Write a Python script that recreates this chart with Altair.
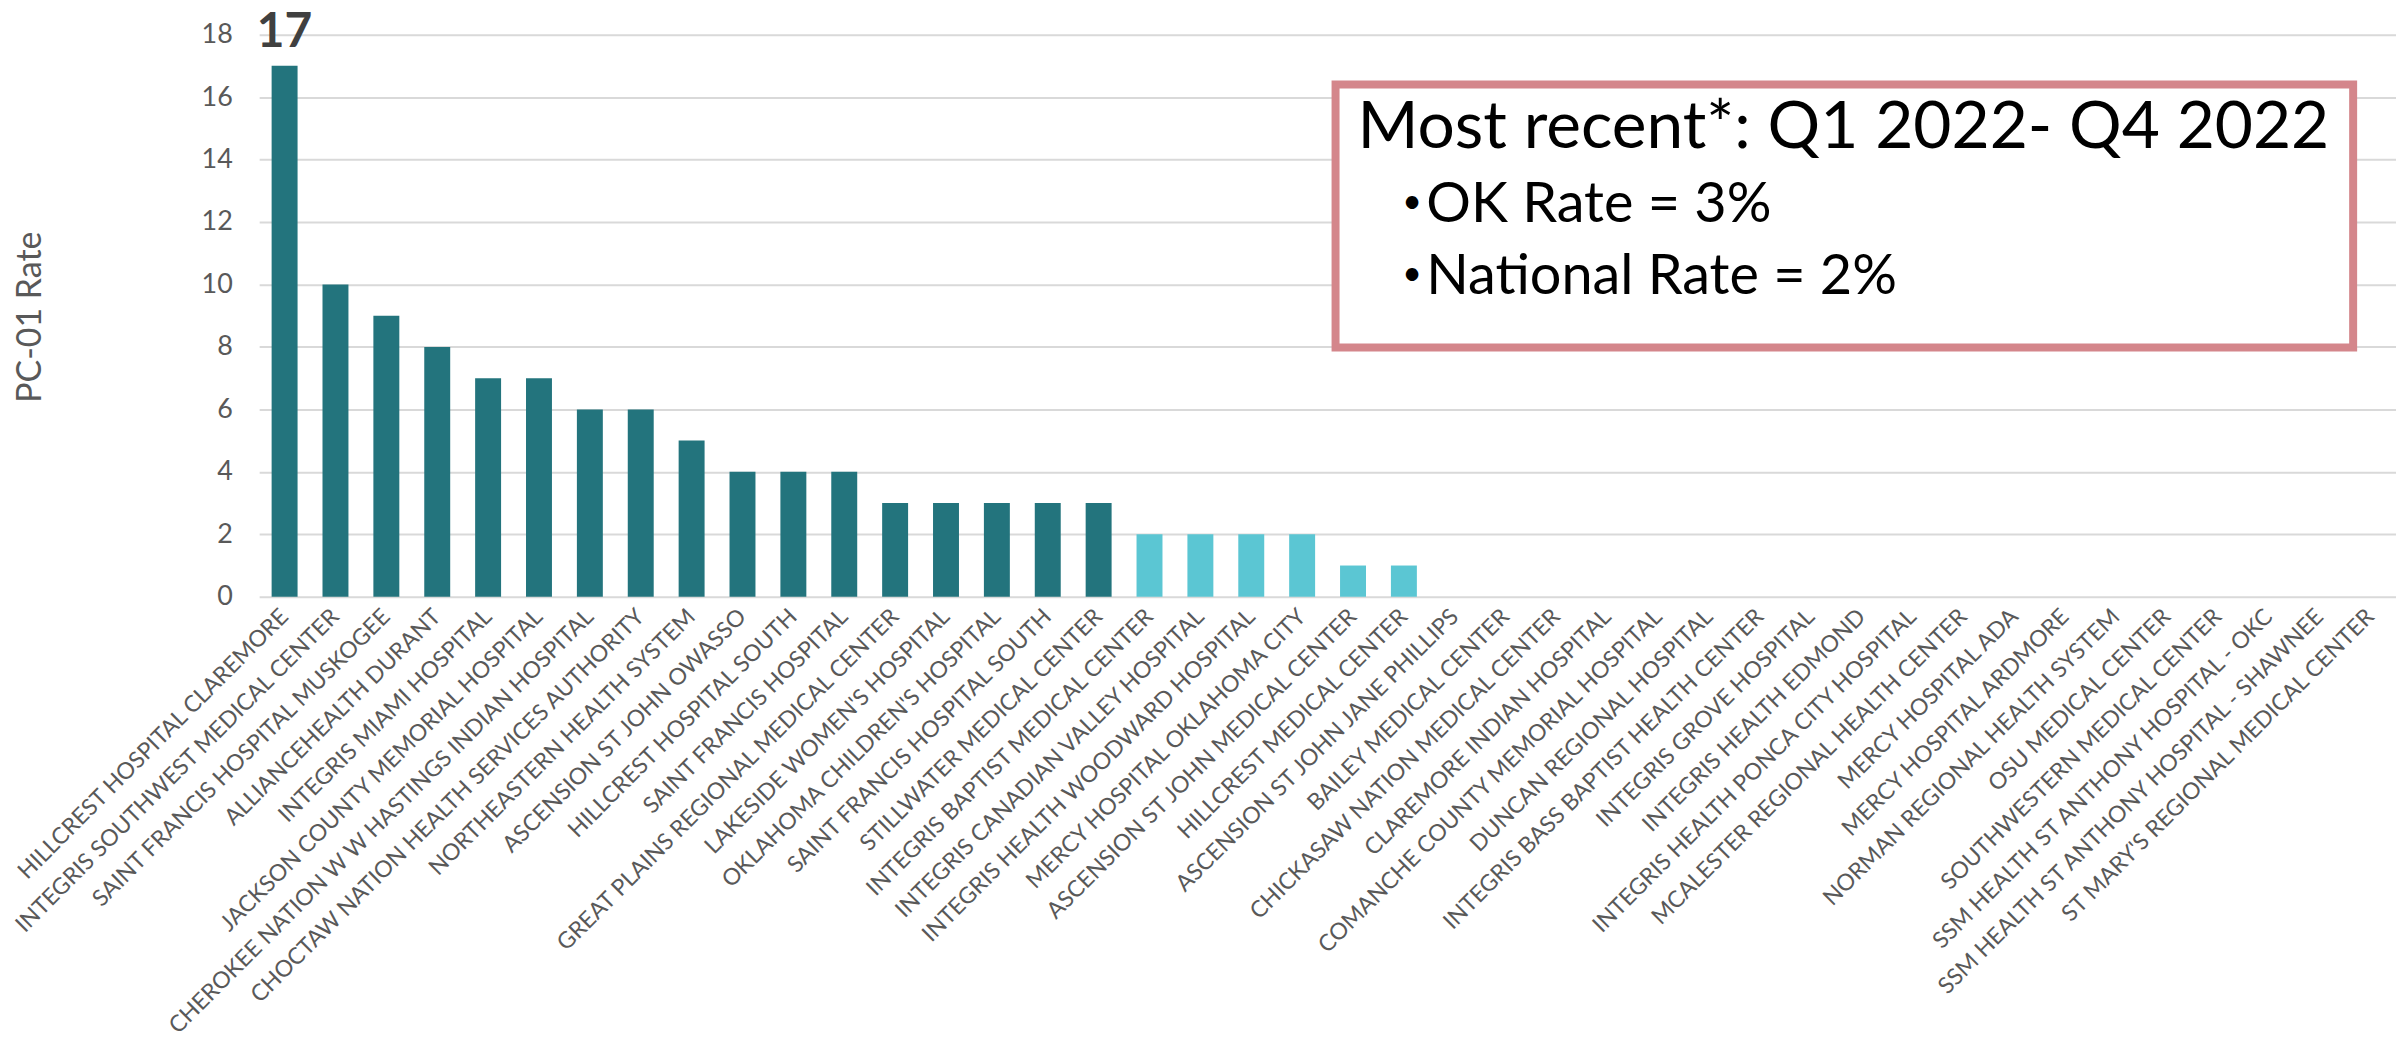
import altair as alt
import pandas as pd

hospitals = [
    "HILLCREST HOSPITAL CLAREMORE",
    "INTEGRIS SOUTHWEST MEDICAL CENTER",
    "SAINT FRANCIS HOSPITAL MUSKOGEE",
    "ALLIANCEHEALTH DURANT",
    "INTEGRIS MIAMI HOSPITAL",
    "JACKSON COUNTY MEMORIAL HOSPITAL",
    "CHEROKEE NATION W W HASTINGS INDIAN HOSPITAL",
    "CHOCTAW NATION HEALTH SERVICES AUTHORITY",
    "NORTHEASTERN HEALTH SYSTEM",
    "ASCENSION ST JOHN OWASSO",
    "HILLCREST HOSPITAL SOUTH",
    "SAINT FRANCIS HOSPITAL",
    "GREAT PLAINS REGIONAL MEDICAL CENTER",
    "LAKESIDE WOMEN'S HOSPITAL",
    "OKLAHOMA CHILDREN'S HOSPITAL",
    "SAINT FRANCIS HOSPITAL SOUTH",
    "STILLWATER MEDICAL CENTER",
    "INTEGRIS BAPTIST MEDICAL CENTER",
    "INTEGRIS CANADIAN VALLEY HOSPITAL",
    "INTEGRIS HEALTH WOODWARD HOSPITAL",
    "MERCY HOSPITAL OKLAHOMA CITY",
    "ASCENSION ST JOHN MEDICAL CENTER",
    "HILLCREST MEDICAL CENTER",
    "ASCENSION ST JOHN JANE PHILLIPS",
    "BAILEY MEDICAL CENTER",
    "CHICKASAW NATION MEDICAL CENTER",
    "CLAREMORE INDIAN HOSPITAL",
    "COMANCHE COUNTY MEMORIAL HOSPITAL",
    "DUNCAN REGIONAL HOSPITAL",
    "INTEGRIS BASS BAPTIST HEALTH CENTER",
    "INTEGRIS GROVE HOSPITAL",
    "INTEGRIS HEALTH EDMOND",
    "INTEGRIS HEALTH PONCA CITY HOSPITAL",
    "MCALESTER REGIONAL HEALTH CENTER",
    "MERCY HOSPITAL ADA",
    "MERCY HOSPITAL ARDMORE",
    "NORMAN REGIONAL HEALTH SYSTEM",
    "OSU MEDICAL CENTER",
    "SOUTHWESTERN MEDICAL CENTER",
    "SSM HEALTH ST ANTHONY HOSPITAL - OKC",
    "SSM HEALTH ST ANTHONY HOSPITAL - SHAWNEE",
    "ST MARY'S REGIONAL MEDICAL CENTER",
]
rates = [17, 10, 9, 8, 7, 7, 6, 6, 5, 4, 4, 4, 3, 3, 3, 3, 3, 2, 2, 2, 2, 1, 1,
         0, 0, 0, 0, 0, 0, 0, 0, 0, 0, 0, 0, 0, 0, 0, 0, 0, 0, 0]
y_ticks = [0, 2, 4, 6, 8, 10, 12, 14, 16, 18]
ok_rate = 3
box_title = "Most recent*: Q1 2022- Q4 2022"
box_lines = ["OK Rate = 3%", "National Rate = 2%"]
bullet = "\u2022"

DARK = "#23747D"
LIGHT = "#5BC6D3"
GRAY = "#595959"
FONT = "Lato"

df = pd.DataFrame({"hospital": hospitals, "rate": rates})

x_enc = alt.X(
    "hospital:N",
    sort=hospitals,
    scale=alt.Scale(paddingInner=0.49, paddingOuter=0.245),
    axis=alt.Axis(
        title=None, labelAngle=-45, labelAlign="right", labelBaseline="middle",
        labelFont=FONT, labelFontSize=23, labelColor=GRAY, labelPadding=16,
        ticks=False, domain=False, labelOverlap=False, labelLimit=1000,
    ),
)
y_enc = alt.Y(
    "rate:Q",
    scale=alt.Scale(domain=[0, 18]),
    axis=alt.Axis(
        values=y_ticks, title="PC-01 Rate", titleFont=FONT, titleFontSize=34,
        titleFontWeight="normal", titleColor=GRAY, titleAngle=270,
        titleX=-229, titleY=283, titleAlign="center", titleBaseline="middle",
        labelFont=FONT, labelFontSize=27, labelColor=GRAY, labelPadding=27,
        ticks=False, tickSize=0, domain=False, gridColor="#D9D9D9", gridWidth=2,
    ),
)

base = alt.Chart(df)
bars = base.mark_bar().encode(
    x=x_enc,
    y=y_enc,
    color=alt.condition(alt.datum.rate >= ok_rate, alt.value(DARK), alt.value(LIGHT)),
)
top_label = base.transform_joinaggregate(
    maxrate="max(rate)"
).transform_filter(
    alt.datum.rate == alt.datum.maxrate
).mark_text(
    font=FONT, fontSize=48, fontWeight="bold", color="#404040",
    baseline="alphabetic", dy=-19,
).encode(x=alt.X("hospital:N", sort=hospitals), y="rate:Q", text="rate:Q")

box = alt.Chart(pd.DataFrame({"k": [1]})).mark_rect(
    fill="white", stroke="#D4868B", strokeWidth=8
).encode(x=alt.value(1080), x2=alt.value(2101), y=alt.value(50), y2=alt.value(314))

title_txt = alt.Chart(pd.DataFrame({"t": [box_title]})).mark_text(
    align="left", baseline="alphabetic", font=FONT, fontSize=66, color="black"
).encode(x=alt.value(1102), y=alt.value(114), text="t:N")

line_layers = []
for i, line in enumerate(box_lines):
    yy = 188 + 72 * i
    line_layers.append(
        alt.Chart(pd.DataFrame({"t": [bullet]})).mark_text(
            align="left", baseline="alphabetic", font=FONT, fontSize=34, color="black"
        ).encode(x=alt.value(1147), y=alt.value(yy - 9), text="t:N")
    )
    line_layers.append(
        alt.Chart(pd.DataFrame({"t": [line]})).mark_text(
            align="left", baseline="alphabetic", font=FONT, fontSize=56, color="black"
        ).encode(x=alt.value(1171), y=alt.value(yy), text="t:N")
    )

chart = alt.layer(bars, top_label, box, title_txt, *line_layers).properties(
    width=2144,
    height=564,
    autosize=alt.AutoSizeParams(type="none"),
    padding={"left": 252, "top": 25, "right": 0, "bottom": 441},
    background="white",
).configure_view(stroke=None)

chart.save("out.html", embed_options={"renderer": "svg", "actions": False})
